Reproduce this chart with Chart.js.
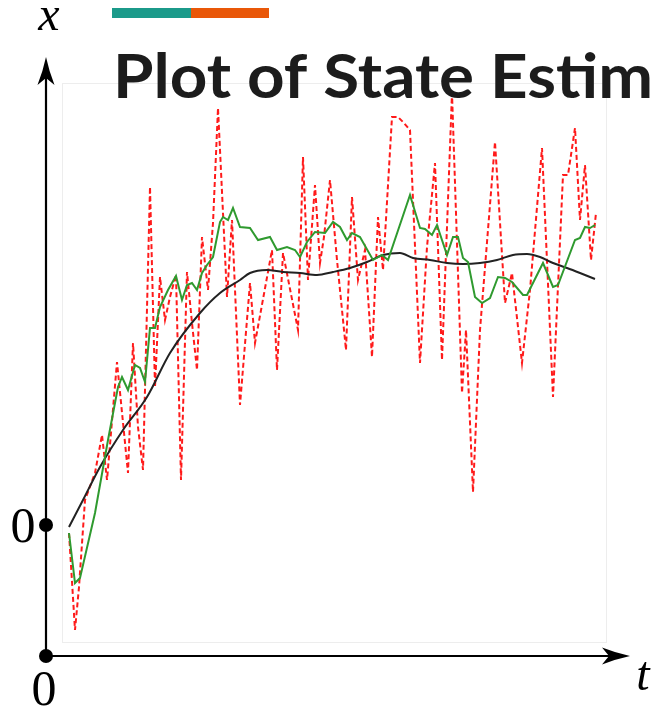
<!DOCTYPE html>
<html>
<head>
<meta charset="utf-8">
<script src="https://cdn.jsdelivr.net/npm/chart.js@4.4.1/dist/chart.umd.min.js"></script>
<style>
  html, body { margin: 0; padding: 0; background: #fff; }
  canvas { display: block; }
</style>
</head>
<body>
<canvas id="stateChart" width="658" height="708"></canvas>
<script>
// measurements (red dashed)
const measTime = [0.46, 0.58, 0.66, 0.78, 0.98, 1.12, 1.22, 1.42, 1.64, 1.74, 1.84, 1.94, 2.08, 2.18, 2.28, 2.38, 2.48, 2.60, 2.70, 2.82,
  2.92, 3.02, 3.12, 3.24, 3.34, 3.44, 3.62, 3.72, 3.88, 4.08, 4.18, 4.52, 4.62, 4.74, 5.04, 5.14, 5.24, 5.38, 5.48, 5.56,
  5.68, 5.82, 6.00, 6.12, 6.24, 6.38, 6.52, 6.64, 6.74, 6.92, 7.04, 7.14, 7.28, 7.48, 7.62, 7.78, 7.92, 8.12, 8.32, 8.40,
  8.54, 8.68, 8.98, 9.18, 9.32, 9.52, 9.68, 9.92, 10.14, 10.34, 10.44, 10.58, 10.68, 10.78, 10.90, 11.00];
const measured = [-0.08, -1.05, -0.62, 0.25, 0.52, 0.90, 0.45, 1.63, 0.52, 1.82, 0.98, 0.55, 3.38, 1.38, 2.48, 2.05, 2.28, 2.50, 0.45, 2.53,
  2.02, 1.55, 2.88, 2.35, 3.02, 4.17, 2.28, 3.05, 1.20, 2.42, 1.82, 2.75, 1.55, 2.72, 1.95, 3.68, 2.45, 3.40, 2.62, 2.88,
  3.45, 2.65, 1.75, 3.28, 2.45, 2.75, 1.68, 3.08, 2.55, 4.08, 4.08, 4.03, 3.95, 1.62, 2.78, 3.62, 1.65, 4.32, 1.32, 1.95,
  0.33, 1.95, 3.83, 2.22, 2.52, 1.62, 2.35, 3.77, 1.28, 3.50, 3.50, 3.97, 3.05, 3.60, 2.65, 3.12];

// filter estimate (green)
const estTime = [0.46, 0.58, 0.68, 0.98, 1.24, 1.44, 1.52, 1.64, 1.78, 1.88, 1.98, 2.08, 2.18, 2.28, 2.44, 2.60, 2.72, 2.82, 2.92, 3.02,
  3.12, 3.22, 3.34, 3.48, 3.54, 3.64, 3.74, 3.88, 4.08, 4.24, 4.48, 4.62, 4.82, 4.98, 5.08, 5.22, 5.38, 5.58, 5.74, 5.88,
  6.02, 6.12, 6.28, 6.54, 6.72, 6.84, 7.28, 7.48, 7.58, 7.72, 7.82, 8.02, 8.14, 8.24, 8.34, 8.44, 8.58, 8.72, 8.88, 9.04,
  9.18, 9.32, 9.54, 9.62, 9.94, 10.14, 10.24, 10.58, 10.68, 10.78, 10.88, 10.98];
const estimate = [-0.08, -0.58, -0.53, 0.12, 0.85, 1.38, 1.48, 1.35, 1.60, 1.57, 1.43, 1.97, 1.97, 2.18, 2.35, 2.49, 2.25, 2.40, 2.42, 2.35,
  2.52, 2.60, 2.68, 3.03, 3.08, 3.05, 3.17, 2.98, 2.97, 2.85, 2.88, 2.75, 2.78, 2.75, 2.68, 2.83, 2.93, 2.92, 3.03, 2.98,
  2.85, 2.92, 2.88, 2.65, 2.70, 2.65, 3.30, 2.97, 2.96, 2.90, 3.00, 2.70, 2.88, 2.88, 2.67, 2.63, 2.28, 2.22, 2.27, 2.48,
  2.47, 2.43, 2.30, 2.30, 2.62, 2.38, 2.40, 2.85, 2.87, 2.98, 2.97, 3.00];

// true state (black)
const trueTime = [0.46, 0.74, 1.08, 1.54, 2.02, 2.48, 3.08, 3.48, 3.88, 4.08, 4.42, 4.74, 5.08, 5.42, 5.74, 6.08, 6.42, 6.74, 7.08, 7.34,
  7.68, 8.02, 8.34, 8.68, 9.02, 9.34, 9.62, 9.88, 10.14, 10.42, 10.68, 10.98];
const trueState = [-0.02, 0.25, 0.58, 0.95, 1.28, 1.72, 2.12, 2.32, 2.45, 2.52, 2.55, 2.53, 2.52, 2.50, 2.53, 2.57, 2.63, 2.70, 2.72, 2.67,
  2.65, 2.62, 2.61, 2.62, 2.65, 2.70, 2.71, 2.68, 2.62, 2.57, 2.52, 2.46];

const titleText = 'Plot of State Estim';

const pts = (ts, vs) => ts.map((t, i) => ({ x: t, y: vs[i] }));

function arrowHead(ctx, tipX, tipY, dx, dy) {
  // stealth-style arrow, (dx, dy) is the unit direction
  const len = 28, half = 8.5, notch = 21;
  const px = -dy, py = dx;
  ctx.beginPath();
  ctx.moveTo(tipX, tipY);
  ctx.quadraticCurveTo(tipX - dx * 14 + px * 3, tipY - dy * 14 + py * 3,
    tipX - dx * len + px * half, tipY - dy * len + py * half);
  ctx.lineTo(tipX - dx * notch, tipY - dy * notch);
  ctx.lineTo(tipX - dx * len - px * half, tipY - dy * len - py * half);
  ctx.quadraticCurveTo(tipX - dx * 14 - px * 3, tipY - dy * 14 - py * 3, tipX, tipY);
  ctx.closePath();
  ctx.fill();
}

const sketchAxes = {
  id: 'sketchAxes',
  beforeDatasetsDraw(chart) {
    const ctx = chart.ctx;
    const a = chart.chartArea;
    ctx.save();
    ctx.strokeStyle = '#ededed';
    ctx.lineWidth = 1;
    ctx.strokeRect(a.left + 16.5, a.top + 26.5, a.right - a.left - 40, a.bottom - a.top - 40);
    ctx.restore();
  },
  afterDraw(chart) {
    const ctx = chart.ctx;
    const xs = chart.scales.x, ys = chart.scales.y;
    const ox = xs.getPixelForValue(0);
    const oy = ys.getPixelForValue(ys.min);
    const zeroY = ys.getPixelForValue(0);
    const right = xs.right, top = ys.top;

    ctx.save();
    ctx.strokeStyle = '#000';
    ctx.fillStyle = '#000';
    ctx.lineWidth = 2.2;
    ctx.beginPath();
    ctx.moveTo(ox, oy);
    ctx.lineTo(right - 12, oy);
    ctx.moveTo(ox, oy);
    ctx.lineTo(ox, top + 12);
    ctx.stroke();
    arrowHead(ctx, right, oy, 1, 0);
    arrowHead(ctx, ox, top, 0, -1);

    ctx.beginPath();
    ctx.arc(ox, oy, 7, 0, Math.PI * 2);
    ctx.fill();
    ctx.beginPath();
    ctx.arc(ox, zeroY, 7, 0, Math.PI * 2);
    ctx.fill();

    ctx.font = 'italic 48px "Liberation Serif"';
    ctx.textAlign = 'center';
    ctx.textBaseline = 'alphabetic';
    ctx.fillText('x', ox + 3, 30);
    ctx.fillText('t', right + 13, oy + 34);
    ctx.font = '50px "Liberation Serif"';
    ctx.fillText('0', ox - 23, zeroY + 17);
    ctx.fillText('0', ox - 2, oy + 49);

    // header bars and title
    ctx.fillStyle = '#1b9a8a';
    ctx.fillRect(112, 8, 79, 10);
    ctx.fillStyle = '#e95708';
    ctx.fillRect(191, 8, 78, 10);

    ctx.fillStyle = '#1c1c1c';
    ctx.font = 'bold 62px Lato';
    ctx.textAlign = 'left';
    const w = ctx.measureText(titleText).width;
    ctx.translate(113, 98);
    ctx.scale(540 / w, 1);
    ctx.fillText(titleText, 0, 0);
    ctx.restore();
  }
};

new Chart(document.getElementById('stateChart'), {
  type: 'line',
  data: {
    datasets: [{
      label: 'Estimate',
      data: pts(estTime, estimate),
      borderColor: '#2f9a2f',
      borderWidth: 2,
      pointRadius: 0,
      tension: 0,
      order: 0
    }, {
      label: 'True state',
      data: pts(trueTime, trueState),
      borderColor: '#222222',
      borderWidth: 2,
      pointRadius: 0,
      cubicInterpolationMode: 'monotone',
      order: 1
    }, {
      label: 'Measurement',
      data: pts(measTime, measured),
      borderColor: '#ff1a1a',
      borderWidth: 2,
      borderDash: [5, 3],
      pointRadius: 0,
      tension: 0,
      order: 2
    }]
  },
  options: {
    responsive: false,
    animation: false,
    events: [],
    layout: { padding: { left: 46, right: 28, top: 57, bottom: 52 } },
    scales: {
      x: { type: 'linear', min: 0, max: 11.68, display: false },
      y: { min: -1.31, max: 4.68, display: false }
    },
    plugins: {
      legend: { display: false },
      tooltip: { enabled: false }
    }
  },
  plugins: [sketchAxes]
});
</script>
</body>
</html>
